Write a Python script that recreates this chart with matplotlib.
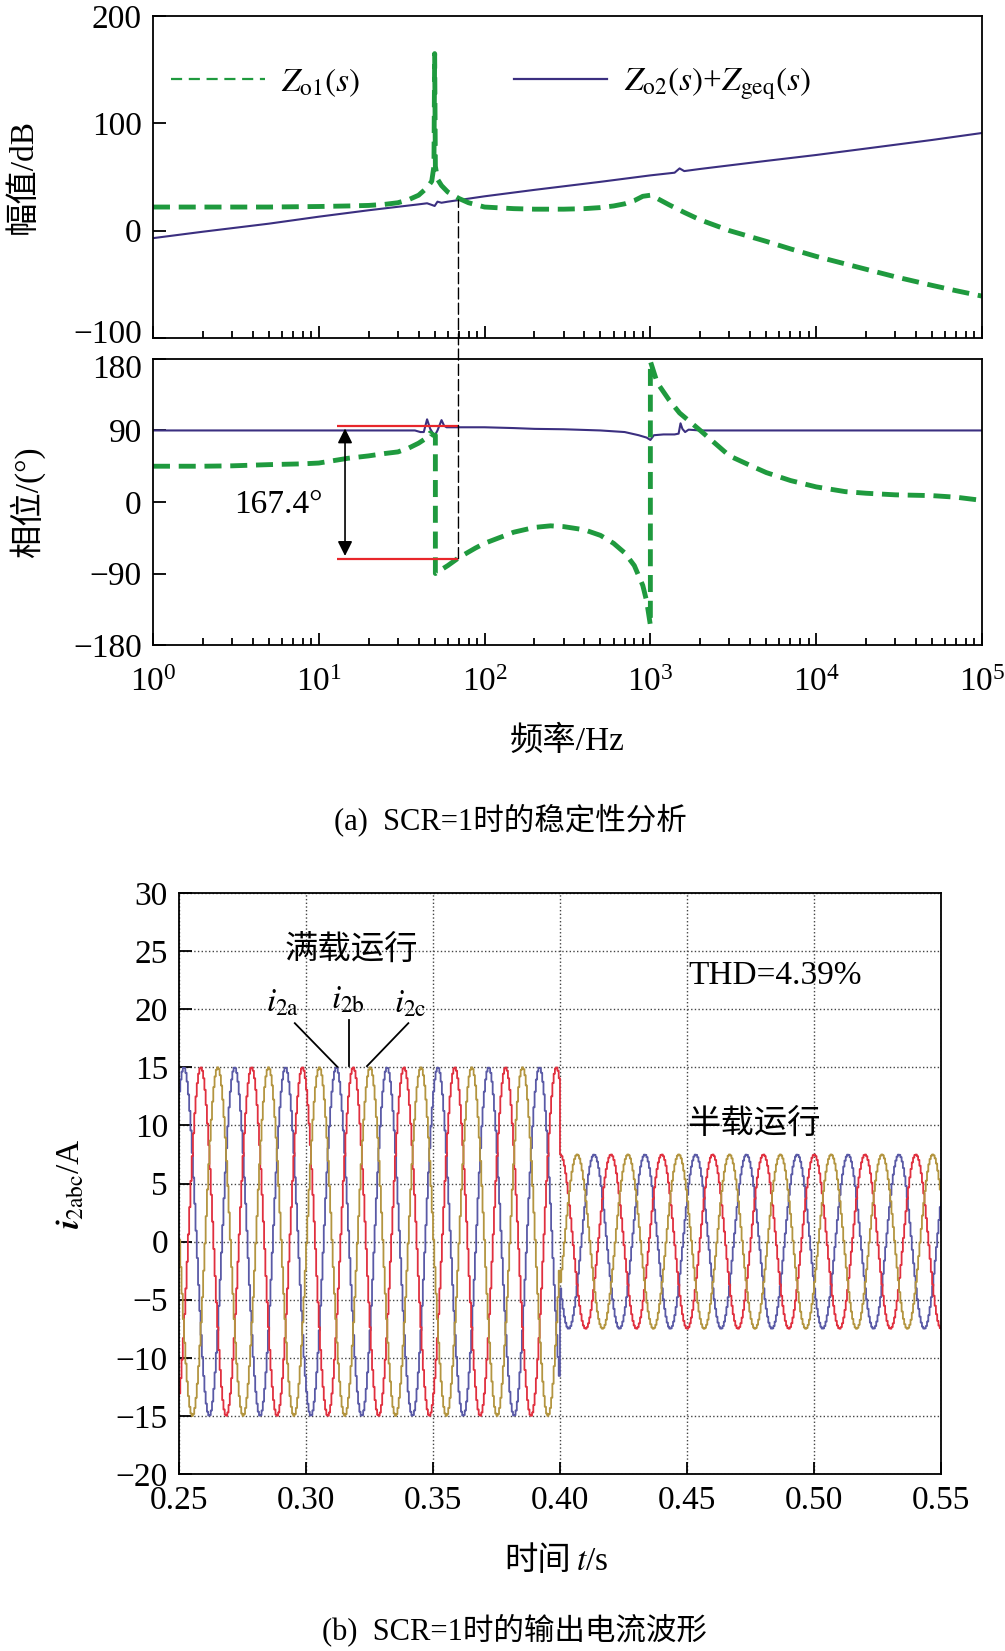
import numpy as np
import matplotlib
matplotlib.use('Agg')
import matplotlib.pyplot as plt
from matplotlib.lines import Line2D
from matplotlib.patches import ConnectionPatch
from matplotlib.transforms import ScaledTranslation

plt.rcParams['font.family'] = ['Liberation Serif', 'Noto Sans CJK SC']
plt.rcParams['mathtext.fontset'] = 'stix'

# ---- (a) Bode data ----
f_zo1_mag = [1, 2, 5, 10, 15, 20, 25, 30, 35, 40, 45, 48, 49.5, 50, 50.5, 52, 55, 60, 70, 80,
             100, 150, 200, 300, 400, 500, 600, 700, 800, 900, 1000, 1100, 1300, 1600, 2000,
             3000, 5000, 7000, 1e4, 2e4, 3e4, 5e4, 7e4, 1e5]
zo1_mag = [22, 22, 22, 22.5, 23, 23.5, 24.5, 26, 29, 33, 40, 46, 60, 165, 60, 48, 42, 36, 30, 26,
           22, 20.5, 20, 20, 20.5, 21.5, 23, 25, 28, 32, 33, 30, 24, 17, 10,
           0, -10, -17, -24, -36, -43, -51, -56, -61]

f_zo2_mag = [1, 2, 5, 10, 20, 40, 45, 48, 50, 52, 55, 60, 70, 100, 200, 500, 1000, 1400, 1500,
             1600, 2000, 5000, 1e4, 2e4, 5e4, 1e5]
zo2_mag = [-7, -1, 6.5, 13, 19, 24.5, 25.5, 24, 23, 27, 26, 27, 28.5, 32, 38, 45.5, 51.5, 54, 58,
           55.5, 57.5, 65, 70.5, 76.5, 84.5, 91]

f_zo1_ph = [1, 2, 3, 5, 8, 10, 15, 20, 25, 30, 35, 40, 45, 47, 49, 50.5, 50.5, 55, 60, 70, 88,
            100, 150, 200, 250, 300, 400, 500, 600, 700, 800, 900, 950, 1000, 1000, 1100, 1300,
            1500, 2000, 3000, 4000, 5000, 7000, 1e4, 1.5e4, 2e4, 3e4, 5e4, 7e4, 1e5]
zo1_ph = [45, 45, 45.5, 47, 48, 49, 55, 58, 61, 63, 68, 74, 81, 87, 84, 84, -90, -85, -80, -70, -58,
          -52, -38, -32, -30, -31, -35, -42, -52, -64, -80, -105, -125, -155, 177, 150, 128,
          112, 90, 58, 46, 37, 27, 19, 13, 11, 9, 8, 6, 2]

f_zo2_ph = [1, 38, 41, 43, 45, 47, 49, 50.5, 52, 55, 57, 59, 62, 70, 100, 150, 200, 300, 500,
            700, 850, 950, 1000, 1050, 1200, 1400, 1480, 1520, 1560, 1620, 1700, 2000, 1e5]
zo2_ph = [90, 90, 88, 88, 104, 92, 86, 85, 90, 103, 96, 94, 94, 94, 94, 93, 92, 91.5, 90,
          88, 84, 81, 78, 84, 85, 85, 86, 99, 92, 88, 91, 90, 90]

f_cross = 69.6
phase_top, phase_bot = 96.0, -71.4
mag_cross = 28.5

# ---- (b) current waveform parameters ----
FREQ = 50.0
T_START, T_END = 0.25, 0.55
T_STEP = 0.40
FULL_AMP, HALF_AMP = 15.0, 7.5
PEAK_A_FULL, PEAK_A_HALF = 0.2517, 0.4132
SAMPLE = 0.0005
phase_names = ['a', 'b', 'c']

green = '#1f9a3e'
purple = '#3b2f80'
red = '#e8262b'
wave_colors = ['#5a5aa6', '#e0303f', '#b39540']

fig = plt.figure(figsize=(10.05, 16.51), dpi=100)
ax_mag = fig.add_axes([0.1522, 0.7953, 0.8249, 0.195])
ax_ph = fig.add_axes([0.1522, 0.6093, 0.8249, 0.1733])
ax_i = fig.add_axes([0.1781, 0.1072, 0.7582, 0.3519])


def style(ax):
    for s in ax.spines.values():
        s.set_linewidth(1.3)
    ax.tick_params(which='both', direction='in', top=False, right=False,
                   labelsize=24, width=1.3, pad=8)
    ax.tick_params(which='major', length=9)
    ax.tick_params(which='minor', length=5)


for ax in (ax_mag, ax_ph, ax_i):
    style(ax)

# magnitude
ax_mag.plot(f_zo2_mag, zo2_mag, color=purple, lw=1.5)
ax_mag.plot(f_zo1_mag, zo1_mag, color=green, lw=3.5, ls='--', dashes=(3.5, 1.8))
ax_mag.set_xscale('log')
ax_mag.set_xlim(1, 1e5)
ax_mag.set_ylim(-100, 200)
ax_mag.set_yticks([-100, 0, 100, 200])
ax_mag.tick_params(labelbottom=False)
ax_mag.set_ylabel('幅值/dB', fontsize=24)
ax_mag.yaxis.set_label_coords(-0.138, 0.5)

handles = [Line2D([], [], color=green, lw=1.6, ls='--', dashes=(5, 3)),
           Line2D([], [], color=purple, lw=1.6)]
ax_mag.legend(handles, [r'$Z_{\mathrm{o1}}(s)$', r'$Z_{\mathrm{o2}}(s)$+$Z_{\mathrm{geq}}(s)$'],
              ncol=2, frameon=False, fontsize=24, loc='center left',
              bbox_to_anchor=(0.022, 0.789), borderpad=0, borderaxespad=0,
              handlelength=2.8, handletextpad=0.5, columnspacing=4.6)

# phase
ax_ph.plot(f_zo2_ph, zo2_ph, color=purple, lw=1.5)
ax_ph.plot(f_zo1_ph, zo1_ph, color=green, lw=3.5, ls='--', dashes=(3.5, 1.8))
ax_ph.set_xscale('log')
ax_ph.set_xlim(1, 1e5)
ax_ph.set_ylim(-180, 180)
ax_ph.set_yticks([-180, -90, 0, 90, 180])
ax_ph.tick_params(axis='x', pad=16)
ax_ph.set_ylabel('相位/(°)', fontsize=24)
ax_ph.yaxis.set_label_coords(-0.130, 0.5)
ax_ph.set_xlabel('频率/Hz', fontsize=24, va='top')
ax_ph.xaxis.set_label_coords(0.5, -0.28)

# keep the touching "-100" and "180" labels apart a little
lab_low = ax_mag.get_yticklabels()[0]
lab_low.set_transform(lab_low.get_transform() + ScaledTranslation(0, 5 / 72, fig.dpi_scale_trans))
lab_top = ax_ph.get_yticklabels()[-1]
lab_top.set_transform(lab_top.get_transform() + ScaledTranslation(0, -5 / 72, fig.dpi_scale_trans))

ax_ph.hlines([phase_top, phase_bot], 12.8, f_cross, color=red, lw=1.6, zorder=4)
ax_ph.annotate('', xy=(14.4, phase_top), xytext=(14.4, phase_bot),
               arrowprops=dict(arrowstyle='<|-|>', color='k', lw=1.2, mutation_scale=22))
ax_ph.text(5.7, -3.5, '167.4°', fontsize=24, ha='center', va='center')

con = ConnectionPatch(xyA=(f_cross, phase_bot), coordsA=ax_ph.transData,
                      xyB=(f_cross, mag_cross), coordsB=ax_mag.transData,
                      color='k', lw=1.0, ls=(0, (8, 3)))
fig.add_artist(con)

fig.text(0.508, 0.5033, '(a)  SCR=1时的稳定性分析', fontsize=22, ha='center', va='center')

# (b) currents
t = np.arange(T_START, T_END + SAMPLE, SAMPLE)
full = t < T_STEP
amp = np.where(full, FULL_AMP, HALF_AMP)
t_peak = np.where(full, PEAK_A_FULL, PEAK_A_HALF)
for k, (name, c) in enumerate(zip(phase_names, wave_colors)):
    i_ph = amp * np.cos(2 * np.pi * FREQ * (t - t_peak) - k * 2 * np.pi / 3)
    ax_i.plot(t, i_ph, color=c, lw=1.3, drawstyle='steps-post')

ax_i.set_xlim(T_START, T_END)
ax_i.set_ylim(-20, 30)
ax_i.set_yticks(np.arange(-20, 31, 5))
xt = [0.25, 0.30, 0.35, 0.40, 0.45, 0.50, 0.55]
ax_i.set_xticks(xt)
ax_i.set_xticklabels([f'{v:.2f}' for v in xt])
ax_i.grid(True, ls=':', color='#444444', lw=1.0)
ax_i.set_axisbelow(True)
ax_i.set_ylabel(r'$\mathbfit{i}_{\mathrm{2abc}}$/A', fontsize=24)
ax_i.yaxis.set_label_coords(-0.121, 0.5)
# x label: CJK part and math part as two texts (mathtext has no CJK fallback)
ax_i.text(0.514, -0.1515, '时间', fontsize=24, ha='right', va='center', transform=ax_i.transAxes)
ax_i.text(0.521, -0.1515, r'$t$/s', fontsize=24, ha='left', va='center', transform=ax_i.transAxes)

ax_i.text(0.3179, 25.1, '满载运行', fontsize=24, ha='center', va='center')
ax_i.text(0.4848, 22.9, 'THD=4.39%', fontsize=24, ha='center', va='center')
ax_i.text(0.4765, 10.1, '半载运行', fontsize=24, ha='center', va='center')
ax_i.text(0.2908, 20.5, r'$i_{\mathrm{2a}}$', fontsize=24, ha='center', va='center')
ax_i.text(0.3164, 20.8, r'$i_{\mathrm{2b}}$', fontsize=24, ha='center', va='center')
ax_i.text(0.3411, 20.4, r'$i_{\mathrm{2c}}$', fontsize=24, ha='center', va='center')
ax_i.plot([0.2956, 0.3123], [18.8, 15.05], color='k', lw=1.3)
ax_i.plot([0.3170, 0.3170], [19.1, 15.1], color='k', lw=1.3)
ax_i.plot([0.3403, 0.3240], [18.8, 15.1], color='k', lw=1.3)

fig.text(0.512, 0.0127, '(b)  SCR=1时的输出电流波形', fontsize=22, ha='center', va='center')

fig.savefig('out.png', dpi=100)
